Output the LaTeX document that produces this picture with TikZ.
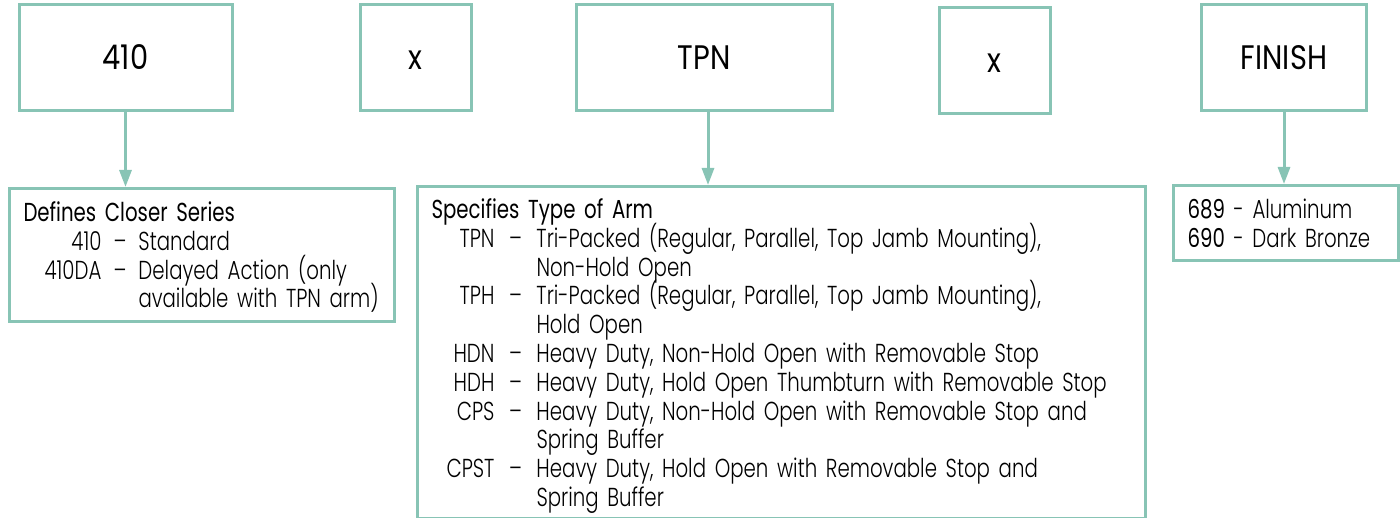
\documentclass[tikz,border=0pt]{standalone}
\usepackage{fontspec}
\setmainfont{Poppins}[FakeStretch=0.76]
\newfontfamily\headfont{Poppins}[FakeStretch=0.85]
\IfFontExistsTF{Poppins Light}
  {\newfontfamily\thinfont{Poppins Light}[FakeStretch=0.76]}
  {\IfFontExistsTF{Poppins-Light}
    {\newfontfamily\thinfont{Poppins-Light}[FakeStretch=0.76]}
    {\newfontfamily\thinfont{Poppins}[FakeStretch=0.76]}}
\usetikzlibrary{arrows.meta}
\usetikzlibrary{positioning}
\definecolor{boxteal}{RGB}{136,196,181}
% code, dash and text of one entry
\newcommand\coderow[4]{\makebox[#1][r]{#3}\makebox[#2]{–}#4}
% fixes the first baseline and the last depth of a box
\newcommand\firststrut[1]{\rule{0pt}{#1}}
\newcommand\laststrut[1]{\rule[-#1]{0pt}{#1}}
\tikzset {
  part box/.style = {
    draw = boxteal,
    line width = 3pt,
    inner sep = 0,
    minimum height = 106pt,
    text height = 24pt,
    text depth = 0pt,
    font = \headfont\fontsize{34}{36}\selectfont
  },
  % description under a part of the number
  info box/.style = {
    draw = boxteal,
    line width = 3pt,
    inner xsep = 14pt,
    inner ysep = 0,
    anchor = north west,
    align = left,
    font = \thinfont\fontsize{26}{28.8}\selectfont,
    execute at begin node = {\lineskiplimit=-100pt}
  },
  feed/.style = {
    draw = boxteal,
    line width = 3pt,
    -{Triangle[length=17pt,width=12pt]}
  }
}

\begin{document}
\begin{tikzpicture}[x=1pt,y=-1pt]
    \useasboundingbox (0,0) rectangle (1400,518);

    \node[part box, minimum width=213pt] (series) at (125.5,58) {410};
    \node[part box, minimum width=111pt] (times1) at (415.5,58) {x};
    \node[part box, minimum width=256pt] (arm) at (704,58) {TPN};
    \node[part box, minimum width=111pt] (times2) at (994.5,61) {x};
    \node[part box, minimum width=165pt] (finish) at (1284,58) {FINISH};

    \node[info box, text width=357pt] (series-info) at (8,187) {%
      \firststrut{33pt}{\rmfamily Defines Closer Series}\\
      \coderow{78pt}{37pt}{410}{Standard}\\
      \coderow{78pt}{37pt}{410DA}{Delayed Action (only}\\
      \hspace*{115pt}available with TPN arm)\laststrut{13.6pt}};
    \node[info box, text width=700pt] (arm-info) at (416,185) {%
      \firststrut{32pt}{\rmfamily Specifies Type of Arm}\\
      \coderow{63pt}{42pt}{TPN}{Tri-Packed (Regular, Parallel, Top Jamb Mounting),}\\
      \hspace*{105pt}Non-Hold Open\\
      \coderow{63pt}{42pt}{TPH}{Tri-Packed (Regular, Parallel, Top Jamb Mounting),}\\
      \hspace*{105pt}Hold Open\\
      \coderow{63pt}{42pt}{HDN}{Heavy Duty, Non-Hold Open with Removable Stop}\\
      \coderow{63pt}{42pt}{HDH}{Heavy Duty, Hold Open Thumbturn with Removable Stop}\\
      \coderow{63pt}{42pt}{CPS}{Heavy Duty, Non-Hold Open with Removable Stop and}\\
      \hspace*{105pt}Spring Buffer\\
      \coderow{63pt}{42pt}{CPST}{Heavy Duty, Hold Open with Removable Stop and}\\
      \hspace*{105pt}Spring Buffer\laststrut{12pt}};
    \node[info box, text width=197pt] (finish-info) at (1172,184) {%
      \firststrut{33pt}{\rmfamily 689} - Aluminum\\
      {\rmfamily 690} - Dark Bronze\laststrut{13.2pt}};

    \draw[feed] (series.south) -- (series.south |- series-info.north);
    \draw[feed] ([xshift=4pt]arm.south) -- ([xshift=4pt]arm.south |- arm-info.north);
    \draw[feed] (finish.south) -- (finish.south |- finish-info.north);
  \end{tikzpicture}
\end{document}
